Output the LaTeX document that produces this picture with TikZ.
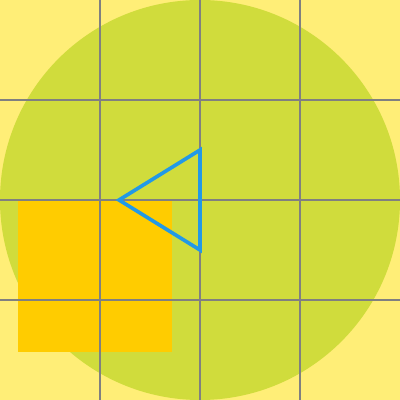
\documentclass[tikz,border=0pt]{standalone}
\definecolor{paleyellow}{HTML}{FFEE77}
\definecolor{limegreen}{HTML}{D0DC3C}
\definecolor{amber}{HTML}{FFCC00}
\definecolor{skyblue}{HTML}{2299E6}
\tikzset{
    gridline/.style={draw=gray,line width=1.4pt},
    tripath/.style={draw=skyblue,line width=2.6pt,line join=miter}
}
\begin{document}
\begin{tikzpicture}[x=2.5cm,y=2.5cm]
        \fill[paleyellow] (0,0) rectangle (4,4);
        \useasboundingbox (0,0) rectangle (4,4);
        \fill[limegreen] (2,2) circle[radius=2];
        \fill[amber] (0.18,0.48) rectangle (1.72,2.01);
        \foreach \k in {1,2,3} {
            \draw[gridline] (\k,0)--(\k,4);
            \draw[gridline] (0,\k)--(4,\k);
        }
        \coordinate (apex) at (1.19,2);
        \coordinate (top) at (2,2.5);
        \coordinate (bottom) at (2,1.5);
        \draw[tripath] (apex)--(top)--(bottom)--cycle;
    \end{tikzpicture}
\end{document}
